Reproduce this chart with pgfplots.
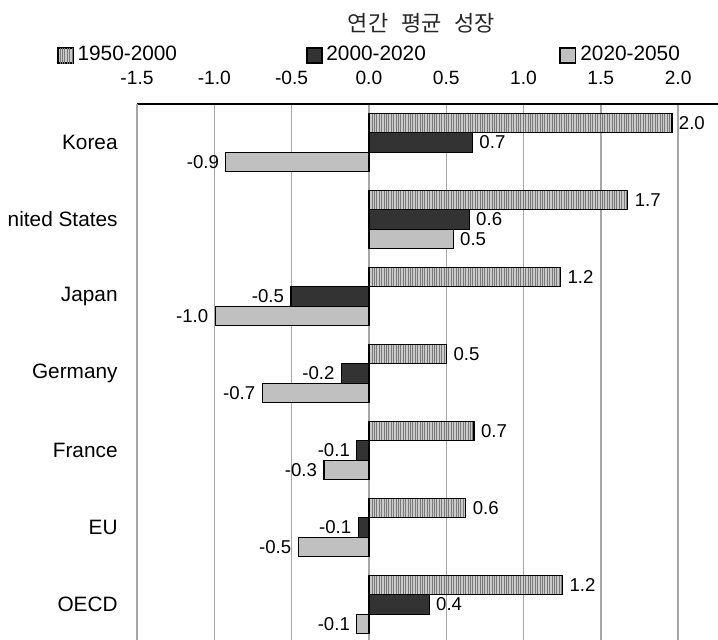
\documentclass[border=0pt]{standalone}
\usepackage{fontspec}
\setmainfont{Liberation Sans}
\newfontfamily\kr[WordSpace=2.6]{Noto Sans CJK KR}
\usepackage{pgfplots}
\pgfplotsset{compat=1.18}
\usetikzlibrary{patterns.meta}
\definecolor{darkbar}{HTML}{333333}
\definecolor{lightbar}{HTML}{C0C0C0}
\definecolor{hatchbg}{HTML}{CACACA}
\definecolor{hatchfg}{HTML}{7A7A7A}
\definecolor{gridc}{HTML}{A6A6A6}
\tikzset{
  hatchbar/.style={draw=black, line width=0.6pt, fill=hatchbg, postaction={pattern={Lines[angle=90,distance=1.2pt,line width=0.5pt]}, pattern color=hatchfg}},
  darkbarst/.style={draw=black, line width=0.6pt, fill=darkbar},
  lightbarst/.style={draw=black, line width=0.6pt, fill=lightbar},
}
\begin{document}
\begin{tikzpicture}
\useasboundingbox (0,0) rectangle (359pt,-319.5pt);
\clip (3.6pt,2pt) rectangle (362pt,-322pt);
\begin{axis}[
  at={(68.5pt,-52pt)}, anchor=north west,
  scale only axis, width=290.5pt, height=269.5pt,
  xmin=-1.5, xmax=2.258, ymin=-0.5, ymax=6.5, y dir=reverse,
  axis x line*=top, axis y line*=left,
  x axis line style={black, line width=0.6pt},
  y axis line style={gridc, line width=0.8pt},
  xtick={-1.5,-1,-0.5,0,0.5,1,1.5,2},
  xmajorgrids, grid style={gridc, line width=0.7pt},
  major tick length=0pt,
  xticklabel style={font=\fontsize{9.6}{11}\selectfont, anchor=base, yshift=10pt,
    /pgf/number format/fixed, /pgf/number format/fixed zerofill,
    /pgf/number format/precision=1, /pgf/number format/assume math mode=true},
  ytick={0,1,2,3,4,5,6},
  yticklabels={Korea, United States, Japan, Germany, France, EU, OECD},
  yticklabel style={font=\fontsize{10.4}{12}\selectfont, anchor=east, inner sep=0pt, xshift=-9.5pt},
  xbar=0pt, bar width=9.625pt,
  nodes near coords, point meta=explicit symbolic,
  visualization depends on={rawx \as \rx},
  nodes near coords style={font=\fontsize{9.3}{10}\selectfont, inner sep=3.2pt, text=black,
    anchor={\ifdim\rx pt<0pt east\else west\fi}},
]
\addplot[hatchbar, bar shift=9.625pt] coordinates {
  (1.96,0) [2.0] (1.675,1) [1.7] (1.24,2) [1.2] (0.502,3) [0.5]
  (0.68,4) [0.7] (0.627,5) [0.6] (1.253,6) [1.2]};
\addplot[darkbarst, bar shift=0pt] coordinates {
  (0.67,0) [0.7] (0.649,1) [0.6] (-0.504,2) [-0.5] (-0.178,3) [-0.2]
  (-0.078,4) [-0.1] (-0.069,5) [-0.1] (0.39,6) [0.4]};
\addplot[lightbarst, bar shift=-9.625pt] coordinates {
  (-0.925,0) [-0.9] (0.545,1) [0.5] (-0.994,2) [-1.0] (-0.69,3) [-0.7]
  (-0.291,4) [-0.3] (-0.457,5) [-0.5] (-0.078,6) [-0.1]};
\end{axis}
% title
\node[font=\kr\fontsize{11}{13}\selectfont, text=black!85] at (210.75pt,-11.5pt) {연간 평균 성장};
% legend
\draw[hatchbar] (29pt,-24pt) rectangle (36.5pt,-31.5pt);
\node[anchor=base west, inner sep=0pt, font=\fontsize{10.4}{12}\selectfont] at (38.6pt,-30pt) {1950-2000};
\draw[darkbarst] (153.5pt,-24pt) rectangle (161pt,-31.5pt);
\node[anchor=base west, inner sep=0pt, font=\fontsize{10.4}{12}\selectfont] at (163pt,-30pt) {2000-2020};
\draw[lightbarst] (280pt,-24pt) rectangle (287.8pt,-31.5pt);
\node[anchor=base west, inner sep=0pt, font=\fontsize{10.4}{12}\selectfont] at (290pt,-30pt) {2020-2050};
\end{tikzpicture}
\end{document}
